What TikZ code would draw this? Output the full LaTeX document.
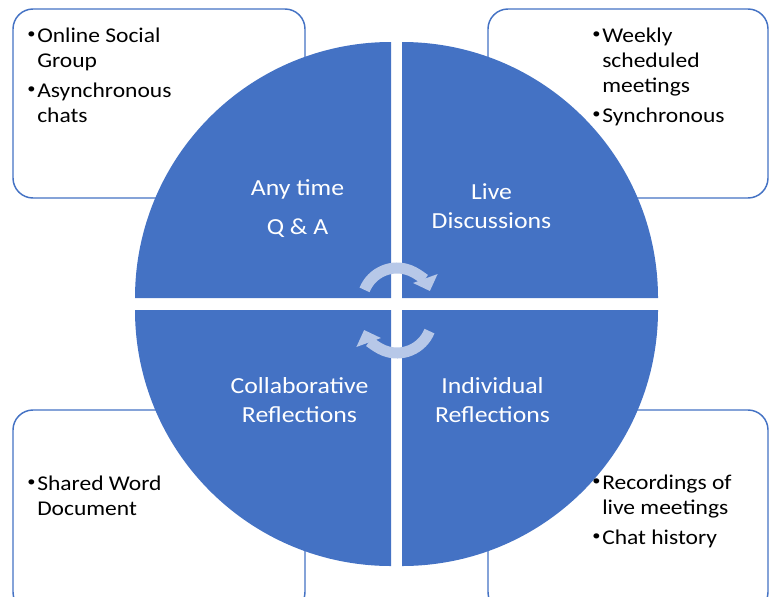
\documentclass[tikz,border=0pt]{standalone}
\usepackage{fontspec}
\usepackage{graphicx}
\setmainfont{Carlito}[FakeStretch=1.12]
\usetikzlibrary{arrows.meta}
\definecolor{qblue}{HTML}{4472C4}
\definecolor{arrowc}{RGB}{183,200,232}
\newcommand\infobullet{\makebox[7.5pt][l]{\raisebox{0.35ex}{\scalebox{0.7}{\textbullet}}}}
\begin{document}
\begin{tikzpicture}[x=0.75pt,y=-0.75pt,
  infobox/.style={draw=qblue,line width=1.1pt,fill=white,rounded corners=15pt},
  quad/.style={fill=qblue},
  cyc/.style={draw=arrowc,line width=8.25pt,-{Triangle[length=10pt,width=19pt]}},
  lab/.style={text=white,inner sep=0pt,anchor=base,font=\fontsize{17.25}{21.75}\selectfont},
  info/.style={inner sep=0pt,anchor=base west,font=\fontsize{15.75}{18.75}\selectfont}]
\useasboundingbox (0,0) rectangle (770,596);
\clip (0,0) rectangle (770,596);
% side boxes
\draw[infobox] (13,9) rectangle (305,198);
\draw[infobox] (488,9) rectangle (768,198);
\draw[infobox] (13,410) rectangle (305,612);
\draw[infobox] (488,410) rectangle (768,612);
% quadrants
\fill[quad] (391,298) -- (135,298) arc[start angle=180,end angle=270,radius=256] -- cycle;
\fill[quad] (402,298) -- (402,42) arc[start angle=270,end angle=360,radius=256] -- cycle;
\fill[quad] (402,310) -- (658,310) arc[start angle=0,end angle=90,radius=256] -- cycle;
\fill[quad] (391,310) -- (391,566) arc[start angle=90,end angle=180,radius=256] -- cycle;
% cycle arrows
\draw[cyc] ([shift={(202:35)}]397,303) arc[start angle=202,end angle=340,radius=35];
\draw[cyc] ([shift={(22:35)}]397,318) arc[start angle=22,end angle=160,radius=35];
% quadrant labels
\node[lab] (qtl) at (297.5,195) {\begin{tabular}[t]{@{}c@{}}Any time\\[7.5pt]Q \& A\end{tabular}};
\node[lab] (qtr) at (491.5,199) {\begin{tabular}[t]{@{}c@{}}Live\\Discussions\end{tabular}};
\node[lab] (qbl) at (299.5,393) {\begin{tabular}[t]{@{}c@{}}Collaborative\\Reflections\end{tabular}};
\node[lab] (qbr) at (492.5,393) {\begin{tabular}[t]{@{}c@{}}Individual\\Reflections\end{tabular}};
% box texts
\node[info] (ttl) at (27,42) {\begin{tabular}[t]{@{}l@{}l@{}}\infobullet&Online Social\\&Group\\[3.75pt]\infobullet&Asynchronous\\&chats\end{tabular}};
\node[info] (ttr) at (592,42) {\begin{tabular}[t]{@{}l@{}l@{}}\infobullet&Weekly\\&scheduled\\&meetings\\[3.75pt]\infobullet&Synchronous\end{tabular}};
\node[info] (tbl) at (27,490) {\begin{tabular}[t]{@{}l@{}l@{}}\infobullet&Shared Word\\&Document\end{tabular}};
\node[info] (tbr) at (592,489) {\begin{tabular}[t]{@{}l@{}l@{}}\infobullet&Recordings of\\&live meetings\\[3.75pt]\infobullet&Chat history\end{tabular}};
\end{tikzpicture}
\end{document}
